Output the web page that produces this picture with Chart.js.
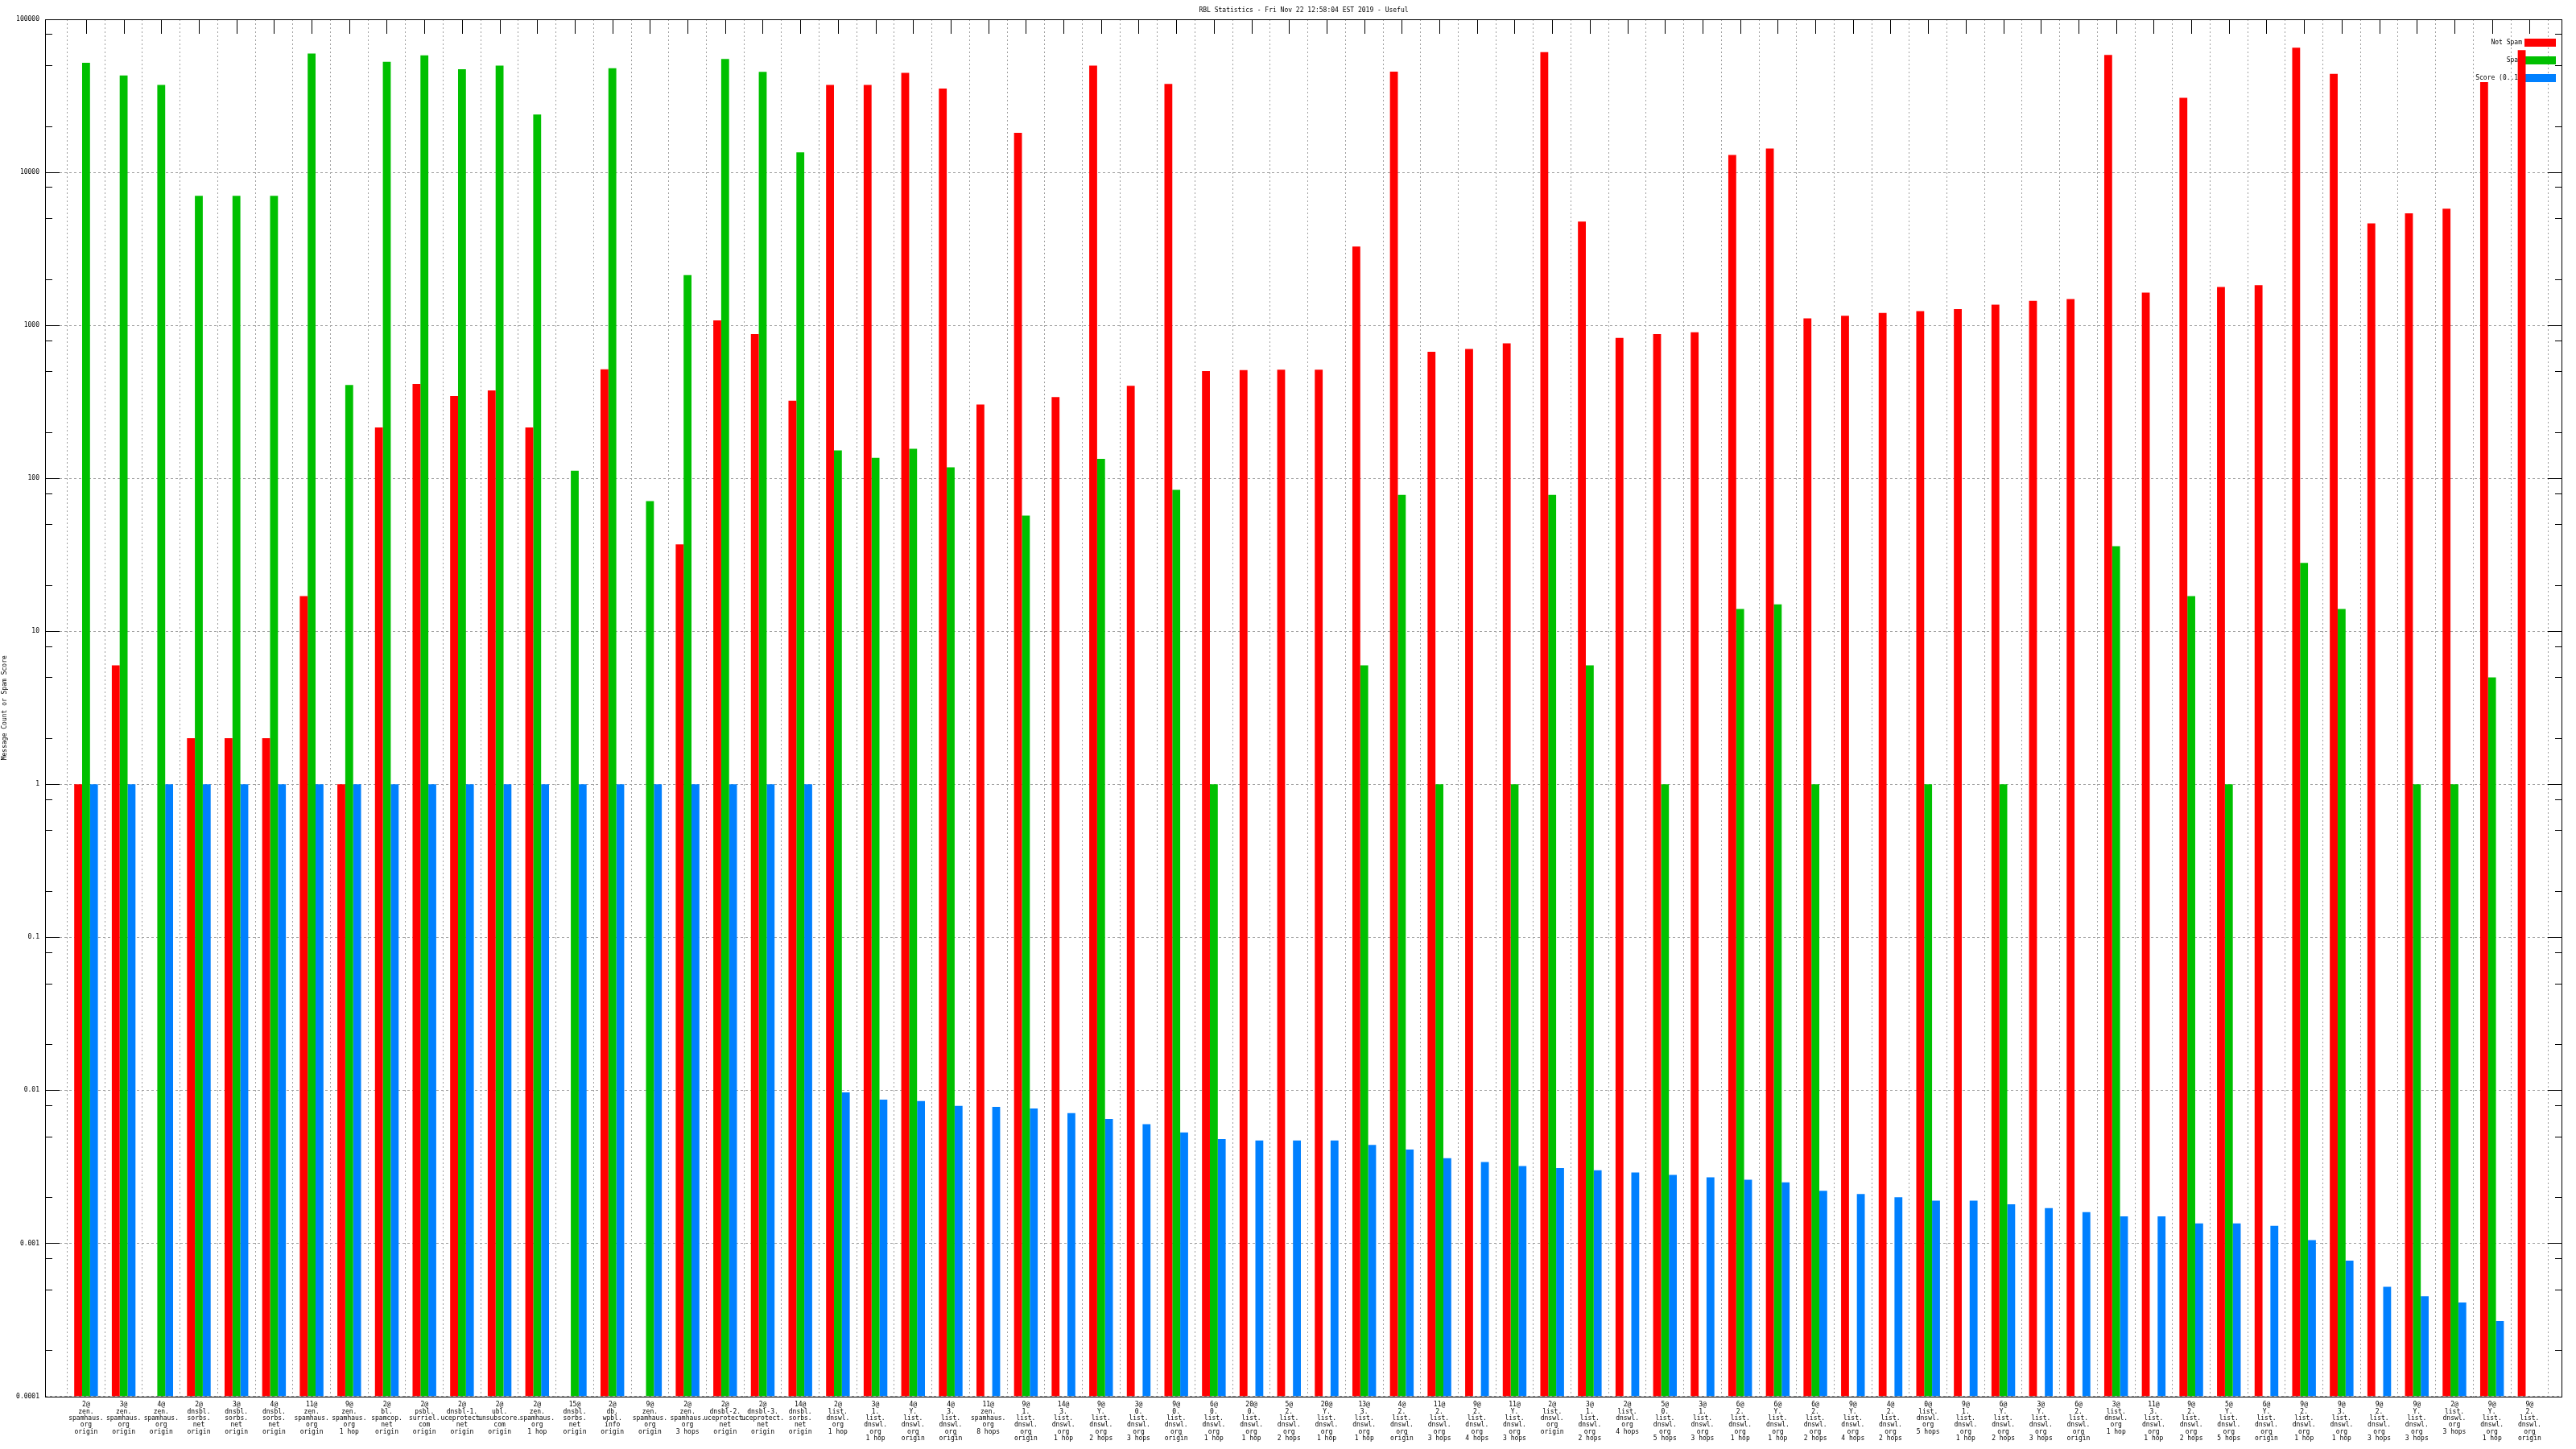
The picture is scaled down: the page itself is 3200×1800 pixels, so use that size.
<!DOCTYPE html>
<html>
<head>
<meta charset="utf-8">
<title>RBL Statistics</title>
<script src="https://cdn.jsdelivr.net/npm/chart.js@4.4.1/dist/chart.umd.min.js"></script>
<style>
  html, body { margin: 0; padding: 0; background: #fff; }
  canvas { display: block; }
</style>
</head>
<body>
<canvas id="rblChart" width="3200" height="1800" style="width:3200px;height:1800px"></canvas>
<script>
var categories = [
    '2@\nzen.\nspamhaus.\norg\norigin',
    '3@\nzen.\nspamhaus.\norg\norigin',
    '4@\nzen.\nspamhaus.\norg\norigin',
    '2@\ndnsbl.\nsorbs.\nnet\norigin',
    '3@\ndnsbl.\nsorbs.\nnet\norigin',
    '4@\ndnsbl.\nsorbs.\nnet\norigin',
    '11@\nzen.\nspamhaus.\norg\norigin',
    '9@\nzen.\nspamhaus.\norg\n1 hop',
    '2@\nbl.\nspamcop.\nnet\norigin',
    '2@\npsbl.\nsurriel.\ncom\norigin',
    '2@\ndnsbl-1.\nuceprotect.\nnet\norigin',
    '2@\nubl.\nunsubscore.\ncom\norigin',
    '2@\nzen.\nspamhaus.\norg\n1 hop',
    '15@\ndnsbl.\nsorbs.\nnet\norigin',
    '2@\ndb.\nwpbl.\ninfo\norigin',
    '9@\nzen.\nspamhaus.\norg\norigin',
    '2@\nzen.\nspamhaus.\norg\n3 hops',
    '2@\ndnsbl-2.\nuceprotect.\nnet\norigin',
    '2@\ndnsbl-3.\nuceprotect.\nnet\norigin',
    '14@\ndnsbl.\nsorbs.\nnet\norigin',
    '2@\nlist.\ndnswl.\norg\n1 hop',
    '3@\n1.\nlist.\ndnswl.\norg\n1 hop',
    '4@\nY.\nlist.\ndnswl.\norg\norigin',
    '4@\n3.\nlist.\ndnswl.\norg\norigin',
    '11@\nzen.\nspamhaus.\norg\n8 hops',
    '9@\n1.\nlist.\ndnswl.\norg\norigin',
    '14@\n3.\nlist.\ndnswl.\norg\n1 hop',
    '9@\nY.\nlist.\ndnswl.\norg\n2 hops',
    '3@\n0.\nlist.\ndnswl.\norg\n3 hops',
    '9@\n0.\nlist.\ndnswl.\norg\norigin',
    '6@\n0.\nlist.\ndnswl.\norg\n1 hop',
    '20@\n0.\nlist.\ndnswl.\norg\n1 hop',
    '5@\n2.\nlist.\ndnswl.\norg\n2 hops',
    '20@\nY.\nlist.\ndnswl.\norg\n1 hop',
    '13@\n3.\nlist.\ndnswl.\norg\n1 hop',
    '4@\n2.\nlist.\ndnswl.\norg\norigin',
    '11@\n2.\nlist.\ndnswl.\norg\n3 hops',
    '9@\n2.\nlist.\ndnswl.\norg\n4 hops',
    '11@\nY.\nlist.\ndnswl.\norg\n3 hops',
    '2@\nlist.\ndnswl.\norg\norigin',
    '3@\n1.\nlist.\ndnswl.\norg\n2 hops',
    '2@\nlist.\ndnswl.\norg\n4 hops',
    '5@\n0.\nlist.\ndnswl.\norg\n5 hops',
    '3@\n1.\nlist.\ndnswl.\norg\n3 hops',
    '6@\n2.\nlist.\ndnswl.\norg\n1 hop',
    '6@\nY.\nlist.\ndnswl.\norg\n1 hop',
    '6@\n2.\nlist.\ndnswl.\norg\n2 hops',
    '9@\nY.\nlist.\ndnswl.\norg\n4 hops',
    '4@\n2.\nlist.\ndnswl.\norg\n2 hops',
    '0@\nlist.\ndnswl.\norg\n5 hops',
    '9@\n1.\nlist.\ndnswl.\norg\n1 hop',
    '6@\nY.\nlist.\ndnswl.\norg\n2 hops',
    '3@\nY.\nlist.\ndnswl.\norg\n3 hops',
    '6@\n2.\nlist.\ndnswl.\norg\norigin',
    '3@\nlist.\ndnswl.\norg\n1 hop',
    '11@\n3.\nlist.\ndnswl.\norg\n1 hop',
    '9@\n2.\nlist.\ndnswl.\norg\n2 hops',
    '5@\nY.\nlist.\ndnswl.\norg\n5 hops',
    '6@\nY.\nlist.\ndnswl.\norg\norigin',
    '9@\n2.\nlist.\ndnswl.\norg\n1 hop',
    '9@\n3.\nlist.\ndnswl.\norg\n1 hop',
    '9@\n2.\nlist.\ndnswl.\norg\n3 hops',
    '9@\nY.\nlist.\ndnswl.\norg\n3 hops',
    '2@\nlist.\ndnswl.\norg\n3 hops',
    '9@\nY.\nlist.\ndnswl.\norg\n1 hop',
    '9@\n2.\nlist.\ndnswl.\norg\norigin'
]

// message counts, null = no messages
var notSpam = [
    1, 6, null, 2, 2, 2, 17, 1, 215, 413,
    345, 375, 215, null, 516, null, 37, 1078, 876, 322,
    37300, 37300, 44700, 35300, 304, 18100, 340, 49900, 402, 37800,
    502, 509, 513, 513, 3275, 45500, 672, 700, 762, 61000,
    4770, 828, 876, 900, 12970, 14300, 1109, 1156, 1205, 1239,
    1274, 1365, 1443, 1484, 58500, 1636, 30700, 1778, 1828, 65300,
    44000, 4640, 5400, 5790, 38900, 63000
]
var spam = [
    52000, 42900, 37300, 7030, 7030, 7030, 59800, 407, 52800, 58200,
    47200, 49900, 23900, 112, 47900, 71, 2130, 55000, 45300, 13500,
    152, 136, 156, 118, null, 57, null, 134, null, 84,
    1, null, null, null, 6, 78, 1, null, 1, 78,
    6, null, 1, null, 14, 15, 1, null, null, 1,
    null, 1, null, null, 36, null, 17, 1, null, 28,
    14, null, 1, 1, 5, null
]
var score = [
    1, 1, 1, 1, 1, 1, 1, 1, 1, 1,
    1, 1, 1, 1, 1, 1, 1, 1, 1, 1,
    0.0097, 0.0087, 0.0085, 0.0079, 0.0078, 0.0076, 0.0071, 0.0065, 0.006, 0.0053,
    0.0048, 0.0047, 0.0047, 0.0047, 0.0044, 0.0041, 0.0036, 0.0034, 0.0032, 0.0031,
    0.003, 0.0029, 0.0028, 0.0027, 0.0026, 0.0025, 0.0022, 0.0021, 0.002, 0.0019,
    0.0019, 0.0018, 0.0017, 0.0016, 0.0015, 0.0015, 0.00135, 0.00135, 0.0013, 0.00105,
    0.00077, 0.00052, 0.00045, 0.00041, 0.00031, null
]

var yTicks = [0.0001, 0.001, 0.01, 0.1, 1, 10, 100, 1000, 10000, 100000]
var seriesNames = ['Not Spam', 'Spam', 'Score (0..1)']
var seriesColors = ['#ff0000', '#00c000', '#0080ff']

function toPoints(values) {
    return values.map(function (v, i) { return { x: i, y: v } })
}

// gnuplot style tics drawn inside the frame
var insideTics = {
    id: 'insideTics',
    beforeDatasetsDraw: function (chart) {
        var ctx = chart.ctx, a = chart.chartArea
        var ys = chart.scales.y, xs = chart.scales.x
        ctx.save()
        ctx.strokeStyle = '#000'
        ctx.lineWidth = 1
        ctx.beginPath()
        yTicks.forEach(function (v, k) {
            var py = Math.round(ys.getPixelForValue(v)) + 0.5
            ctx.moveTo(a.left, py); ctx.lineTo(a.left + 18, py)
            ctx.moveTo(a.right, py); ctx.lineTo(a.right - 18, py)
            if (k < yTicks.length - 1) {
                [2, 5, 8].forEach(function (m) {
                    var pm = Math.round(ys.getPixelForValue(v * m)) + 0.5
                    ctx.moveTo(a.left, pm); ctx.lineTo(a.left + 9, pm)
                    ctx.moveTo(a.right, pm); ctx.lineTo(a.right - 9, pm)
                })
            }
        })
        xs.ticks.forEach(function (t) {
            var px = Math.round(xs.getPixelForValue(t.value)) + 0.5
            ctx.moveTo(px, a.top); ctx.lineTo(px, a.top + 18)
        })
        ctx.stroke()
        ctx.restore()
    },
    afterDraw: function (chart) {
        var ctx = chart.ctx, a = chart.chartArea
        ctx.save()
        ctx.strokeStyle = '#000'
        ctx.lineWidth = 1
        ctx.strokeRect(Math.round(a.left) + 0.5, Math.round(a.top) + 0.5,
            Math.round(a.right - a.left) - 1, Math.round(a.bottom - a.top))
        ctx.restore()
    }
}

// key in the top right corner, drawn before the bars like gnuplot does
var insideKey = {
    id: 'insideKey',
    beforeDatasetsDraw: function (chart) {
        var ctx = chart.ctx, a = chart.chartArea
        ctx.save()
        ctx.font = '8px "DejaVu Sans Mono"'
        ctx.textAlign = 'right'
        ctx.textBaseline = 'middle'
        chart.data.datasets.forEach(function (ds, i) {
            var y = a.top + 29 + i * 22
            ctx.fillStyle = ds.backgroundColor
            ctx.fillRect(a.right - 47, y - 5, 39, 10)
            ctx.fillStyle = '#000'
            ctx.fillText(ds.label, a.right - 50, y)
        })
        ctx.restore()
    }
}

Chart.defaults.font.family = '"DejaVu Sans Mono", monospace'
Chart.defaults.font.size = 8
Chart.defaults.color = '#000'

var ctx = document.getElementById('rblChart')

var rblChart = new Chart(ctx, {
    type: 'bar',
    data: {
        datasets: [notSpam, spam, score].map(function (values, i) {
            return {
                label: seriesNames[i],
                data: toPoints(values),
                backgroundColor: seriesColors[i],
                borderWidth: 0,
                categoryPercentage: 0.63,
                barPercentage: 1.0
            }
        })
    },
    options: {
        responsive: false,
        devicePixelRatio: 1,
        animation: false,
        layout: { padding: { top: 0, left: 0, right: 17, bottom: 0 } },
        plugins: {
            legend: { display: false },
            tooltip: { enabled: false },
            title: {
                display: true,
                fullSize: false,
                text: 'RBL Statistics - Fri Nov 22 12:58:04 EST 2019 - Useful',
                font: { size: 8, weight: 'normal', lineHeight: 1.2 },
                padding: { top: 8, bottom: 6.4 },
                color: '#000'
            }
        },
        scales: {
            x: {
                type: 'linear',
                min: -1.09,
                max: 65.87,
                offset: false,
                afterBuildTicks: function (scale) {
                    scale.ticks = categories.map(function (c, i) { return { value: i } })
                },
                afterFit: function (scale) { scale.height = 65.5 },
                ticks: {
                    autoSkip: false,
                    maxRotation: 0,
                    minRotation: 0,
                    padding: 6.5,
                    font: { size: 8, lineHeight: 1.04 },
                    callback: function (value) {
                        return categories[value] ? categories[value].split('\n') : ''
                    }
                },
                grid: { color: '#a0a0a0', lineWidth: 1, drawTicks: false },
                border: { display: false, dash: [2, 3] }
            },
            y: {
                type: 'logarithmic',
                min: 0.0001,
                max: 100000,
                afterBuildTicks: function (scale) {
                    scale.ticks = yTicks.map(function (v) { return { value: v, major: true } })
                },
                afterFit: function (scale) { scale.width = 56 },
                ticks: {
                    padding: 7,
                    font: { size: 8 },
                    callback: function (value) { return String(value) }
                },
                title: {
                    display: true,
                    text: 'Message Count or Spam Score',
                    font: { size: 8 },
                    padding: { top: 1, bottom: 0 }
                },
                grid: { color: '#a0a0a0', lineWidth: 1, drawTicks: false },
                border: { display: false, dash: [3, 3] }
            }
        }
    },
    plugins: [insideTics, insideKey]
})
</script>
</body>
</html>
